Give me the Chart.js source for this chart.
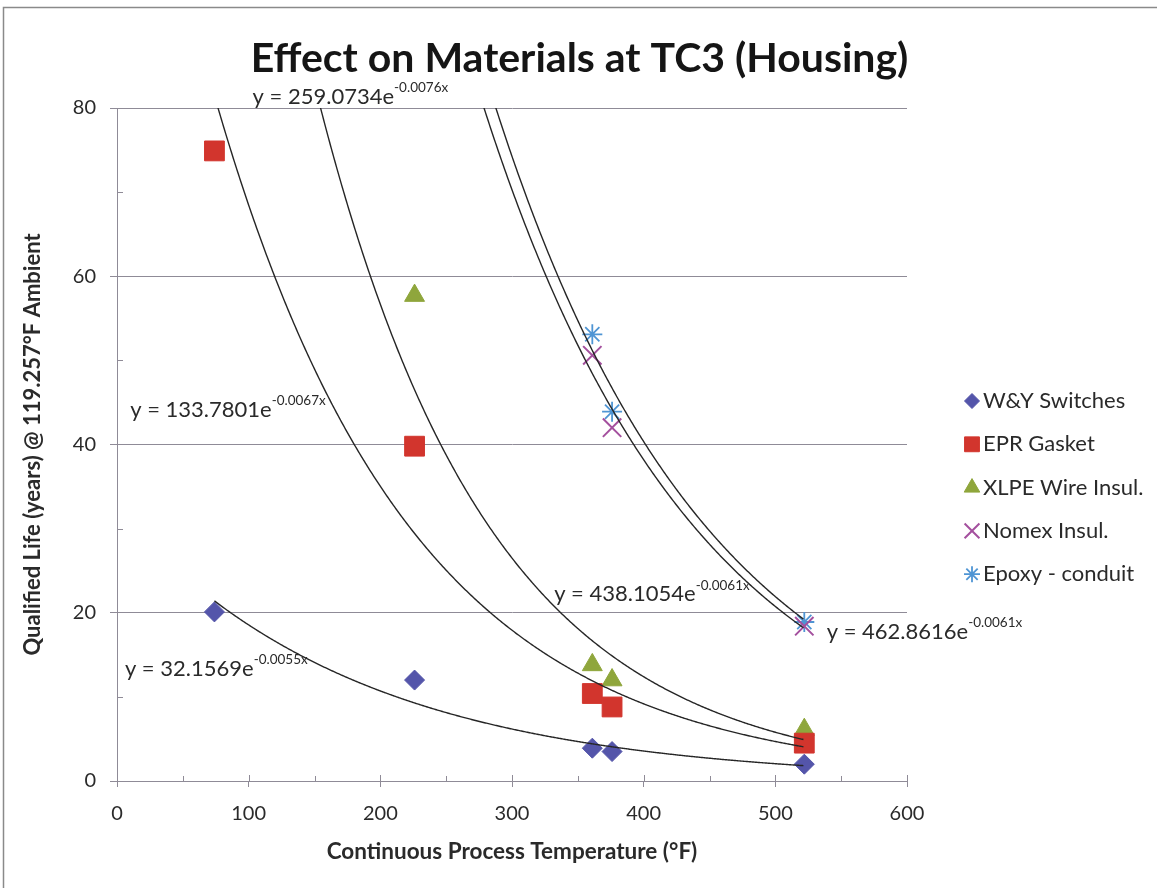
<!DOCTYPE html>
<html>
<head>
<meta charset="utf-8">
<title>Effect on Materials at TC3 (Housing)</title>
<script src="https://cdn.jsdelivr.net/npm/chart.js@4.4.1/dist/chart.umd.min.js"></script>
<style>
  html, body { margin: 0; padding: 0; background: #fff; }
  canvas { display: block; }
</style>
</head>
<body>
<canvas id="lifeChart" width="1157" height="888"></canvas>
<script>
// Values
const temps = [74, 226, 361, 376, 522];
const wySwitches = [20.1, 12.0, 3.9, 3.5, 2.0];
const eprGasket = [74.9, 39.8, 10.4, 8.8, 4.5];
const xlpeTemps = [226, 361, 376, 522];
const xlpeWire = [57.7, 13.8, 12.0, 6.1];
const nomexTemps = [361, 376, 522];
const nomexInsul = [50.6, 42.0, 18.4];
const epoxyConduit = [53.1, 43.9, 18.9];

const seriesNames = ['W&Y Switches', 'EPR Gasket', 'XLPE Wire Insul.', 'Nomex Insul.', 'Epoxy - conduit'];

// Exponential trendlines y = a e^(b x), as printed on the chart
const fitA = ['32.1569', '133.7801', '259.0734', '438.1054', '462.8616'];
const fitB = ['-0.0055', '-0.0067', '-0.0076', '-0.0061', '-0.0061'];
const fitRange = [74, 522];

const xTickStep = 100;
const yTickStep = 20;

const chartTitle = 'Effect on Materials at TC3 (Housing)';
const yTitle = 'Qualified Life (years) @ 119.257°F Ambient';
const xTitle = 'Continuous Process Temperature (°F)';

// where each equation label sits (data coordinates of its left/middle)
const labelSpots = [
    { x: 6, y: 13.3 },
    { x: 10, y: 44.1 },
    { x: 103, y: 81.3 },
    { x: 332, y: 22.2 },
    { x: 539, y: 17.7 },
];

const gridColor = '#8f8b97';
const textColor = '#2a2a2a';
const font = 'Lato';

const pairs = (xs, ys) => xs.map((x, i) => ({ x: x, y: ys[i] }));

// marker look for each series: style, colour, radius on chart, radius in legend
const markers = [
    { style: 'rectRot', color: '#5455aa', r: 10, lr: 7.5, bw: 1 },
    { style: 'rect', color: '#d2352d', r: 14, lr: 10.5, bw: 1 },
    { style: 'triangle', color: '#8fa63c', r: 11.5, lr: 9, bw: 1 },
    { style: 'crossRot', color: '#a4509e', r: 13, lr: 10.5, bw: 2 },
    { style: 'star', color: '#4f95d4', r: 10, lr: 8, bw: 1.8 },
];

const seriesData = [
    pairs(temps, wySwitches),
    pairs(temps, eprGasket),
    pairs(xlpeTemps, xlpeWire),
    pairs(nomexTemps, nomexInsul),
    pairs(nomexTemps, epoxyConduit),
];

const datasets = seriesNames.map((name, i) => ({
    label: name,
    data: seriesData[i],
    pointStyle: markers[i].style,
    pointRadius: markers[i].r,
    pointHoverRadius: markers[i].r,
    backgroundColor: markers[i].color,
    borderColor: markers[i].color,
    pointBorderWidth: markers[i].bw,
    showLine: false,
}));

// frame, background, chart title and y axis title
const framePlugin = {
    id: 'frame',
    beforeDraw(chart) {
        const { ctx, width, height, chartArea } = chart;
        ctx.save();
        ctx.fillStyle = '#fff';
        ctx.fillRect(0, 0, width, height);
        ctx.strokeStyle = '#8a8a8a';
        ctx.lineWidth = 1.5;
        ctx.beginPath();
        ctx.moveTo(3.5, height);
        ctx.lineTo(3.5, 7.5);
        ctx.lineTo(width, 7.5);
        ctx.stroke();

        ctx.fillStyle = '#151515';
        ctx.textAlign = 'center';
        ctx.textBaseline = 'alphabetic';
        ctx.font = 'bold 41px ' + font;
        ctx.fillText(chartTitle, width / 2 + 1, 72);

        ctx.fillStyle = textColor;
        ctx.textBaseline = 'middle';
        ctx.font = 'bold 22px ' + font;
        ctx.translate(33, (chartArea.top + chartArea.bottom) / 2);
        ctx.rotate(-Math.PI / 2);
        ctx.fillText(yTitle, 0, 0);
        ctx.restore();
    },
};

// minor ticks and the inner half of the x ticks
const ticksPlugin = {
    id: 'extraTicks',
    beforeDatasetsDraw(chart) {
        const { ctx, chartArea, scales: { x, y } } = chart;
        ctx.save();
        ctx.strokeStyle = gridColor;
        ctx.lineWidth = 1;
        ctx.beginPath();
        for (let v = 0; v <= 600; v += 50) {
            const px = Math.round(x.getPixelForValue(v)) + 0.5;
            ctx.moveTo(px, chartArea.bottom);
            ctx.lineTo(px, chartArea.bottom - (v % 100 === 0 ? 6 : 5));
        }
        for (let v = 10; v < 80; v += 20) {
            const py = Math.round(y.getPixelForValue(v)) + 0.5;
            ctx.moveTo(chartArea.left, py);
            ctx.lineTo(chartArea.left + 6, py);
        }
        ctx.stroke();
        ctx.restore();
    },
};

// trendlines drawn over the markers, through the chart's scales
const trendPlugin = {
    id: 'trendlines',
    afterDatasetsDraw(chart) {
        const { ctx, chartArea, scales: { x, y } } = chart;
        ctx.save();
        ctx.beginPath();
        ctx.rect(chartArea.left, chartArea.top, chartArea.right - chartArea.left, chartArea.bottom - chartArea.top);
        ctx.clip();
        ctx.strokeStyle = '#262626';
        ctx.lineWidth = 1.4;
        const start = x.getPixelForValue(fitRange[0]);
        const end = x.getPixelForValue(fitRange[1]);
        fitA.forEach((a, i) => {
            const b = Number(fitB[i]);
            ctx.beginPath();
            for (let px = start; px <= end + 0.01; px += 1) {
                const t = Math.min(x.getValueForPixel(px), fitRange[1]);
                const py = y.getPixelForValue(Number(a) * Math.exp(b * t));
                if (px === start) ctx.moveTo(px, py); else ctx.lineTo(px, py);
            }
            ctx.stroke();
        });
        ctx.restore();
    },
};

// equation labels and the legend
const labelsPlugin = {
    id: 'labels',
    afterDraw(chart) {
        const { ctx, scales: { x, y } } = chart;
        ctx.save();
        ctx.fillStyle = textColor;
        ctx.textAlign = 'left';
        ctx.textBaseline = 'middle';
        labelSpots.forEach((spot, i) => {
            const px = x.getPixelForValue(spot.x);
            const py = y.getPixelForValue(spot.y);
            const main = 'y = ' + fitA[i] + 'e';
            ctx.font = '22px ' + font;
            ctx.fillText(main, px, py);
            const w = ctx.measureText(main).width;
            ctx.font = '13.5px ' + font;
            ctx.fillText(fitB[i] + 'x', px + w, py - 9);
        });

        // legend
        const lx = 972, ly = 401, step = 43.3;
        datasets.forEach((ds, i) => {
            const cy = ly + i * step;
            ctx.fillStyle = markers[i].color;
            ctx.strokeStyle = markers[i].color;
            ctx.lineWidth = markers[i].bw;
            Chart.helpers.drawPoint(ctx, {
                pointStyle: markers[i].style,
                radius: markers[i].lr,
                rotation: 0,
                borderWidth: markers[i].bw,
            }, lx, cy);
            ctx.fillStyle = textColor;
            ctx.font = '22px ' + font;
            ctx.fillText(ds.label, lx + 11, cy);
        });
        ctx.restore();
    },
};

const ctx = document.getElementById('lifeChart').getContext('2d');
new Chart(ctx, {
    type: 'scatter',
    data: { datasets: datasets },
    plugins: [framePlugin, ticksPlugin, trendPlugin, labelsPlugin],
    options: {
        responsive: false,
        animation: false,
        layout: { padding: { left: 0, right: 250, top: 108, bottom: 0 } },
        plugins: {
            legend: { display: false },
            tooltip: { enabled: false },
            title: { display: false },
        },
        scales: {
            x: {
                type: 'linear',
                min: 0,
                max: 600,
                afterFit(scale) {
                    scale.height = 107;
                },
                ticks: {
                    stepSize: xTickStep,
                    color: textColor,
                    padding: 15,
                    font: { family: font, size: 20 },
                },
                grid: { drawOnChartArea: false, color: gridColor, tickLength: 6 },
                border: { color: gridColor },
                title: {
                    display: true,
                    text: xTitle,
                    color: textColor,
                    font: { family: font, size: 22.5, weight: 'bold', lineHeight: 1.2 },
                    padding: { top: 0, bottom: 23 },
                },
            },
            y: {
                min: 0,
                max: 80,
                afterFit(scale) {
                    scale.width = 117;
                },
                ticks: {
                    stepSize: yTickStep,
                    color: textColor,
                    padding: 14,
                    font: { family: font, size: 20 },
                },
                grid: { color: gridColor, tickLength: 7 },
                border: { color: gridColor },
            },
        },
    },
});
</script>
</body>
</html>
